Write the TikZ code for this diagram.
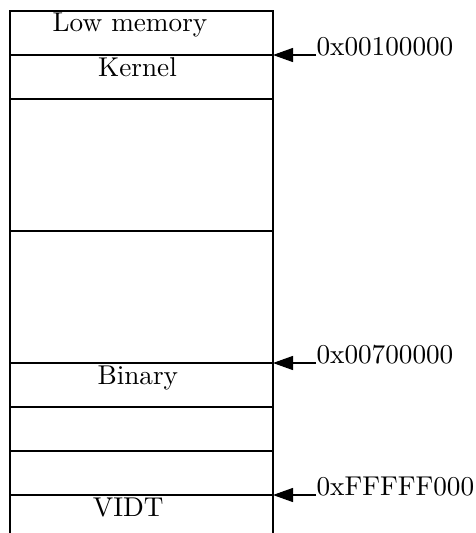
\documentclass[tikz,border=0pt]{standalone}
\usetikzlibrary{arrows.meta}
\begin{document}
\begin{tikzpicture}[x=0.3676pt,y=-0.3676pt,
  cell/.style={line width=0.4pt},
  celltext/.style={anchor=base,inner sep=0pt,font=\normalsize},
  addr/.style={anchor=base west,inner sep=0pt},
  ptr/.style={-{Triangle[length=7.4pt,width=5.2pt]},line width=0.4pt}]
\useasboundingbox (0,0) rectangle (475,533);
% outer vertical lines
\draw[cell] (10,533) -- (10,11) -- (273,11) -- (273,533);
% horizontal separators
\foreach \yy in {55,99,231,363,407,451,495}
  \draw[cell] (10,\yy) -- (273,\yy);
% cell texts
\node[celltext] (low) at (130,31.7) {Low memory};
\node[celltext] (kern) at (137.5,76.7) {Kernel};
\node[celltext] (bin) at (137.8,384.5) {Binary};
\node[celltext] (vidt) at (128.3,516) {VIDT};
% address pointers
\coordinate (e1) at (273,55);
\coordinate (e2) at (273,363);
\coordinate (e3) at (273,495);
\node[addr] (a1) at (316,55) {0x00100000};
\node[addr] (a2) at (316,363) {0x00700000};
\node[addr] (a3) at (316,495) {0xFFFFF000};
\draw[ptr] (a1.base west) -- (e1);
\draw[ptr] (a2.base west) -- (e2);
\draw[ptr] (a3.base west) -- (e3);
\end{tikzpicture}
\end{document}
